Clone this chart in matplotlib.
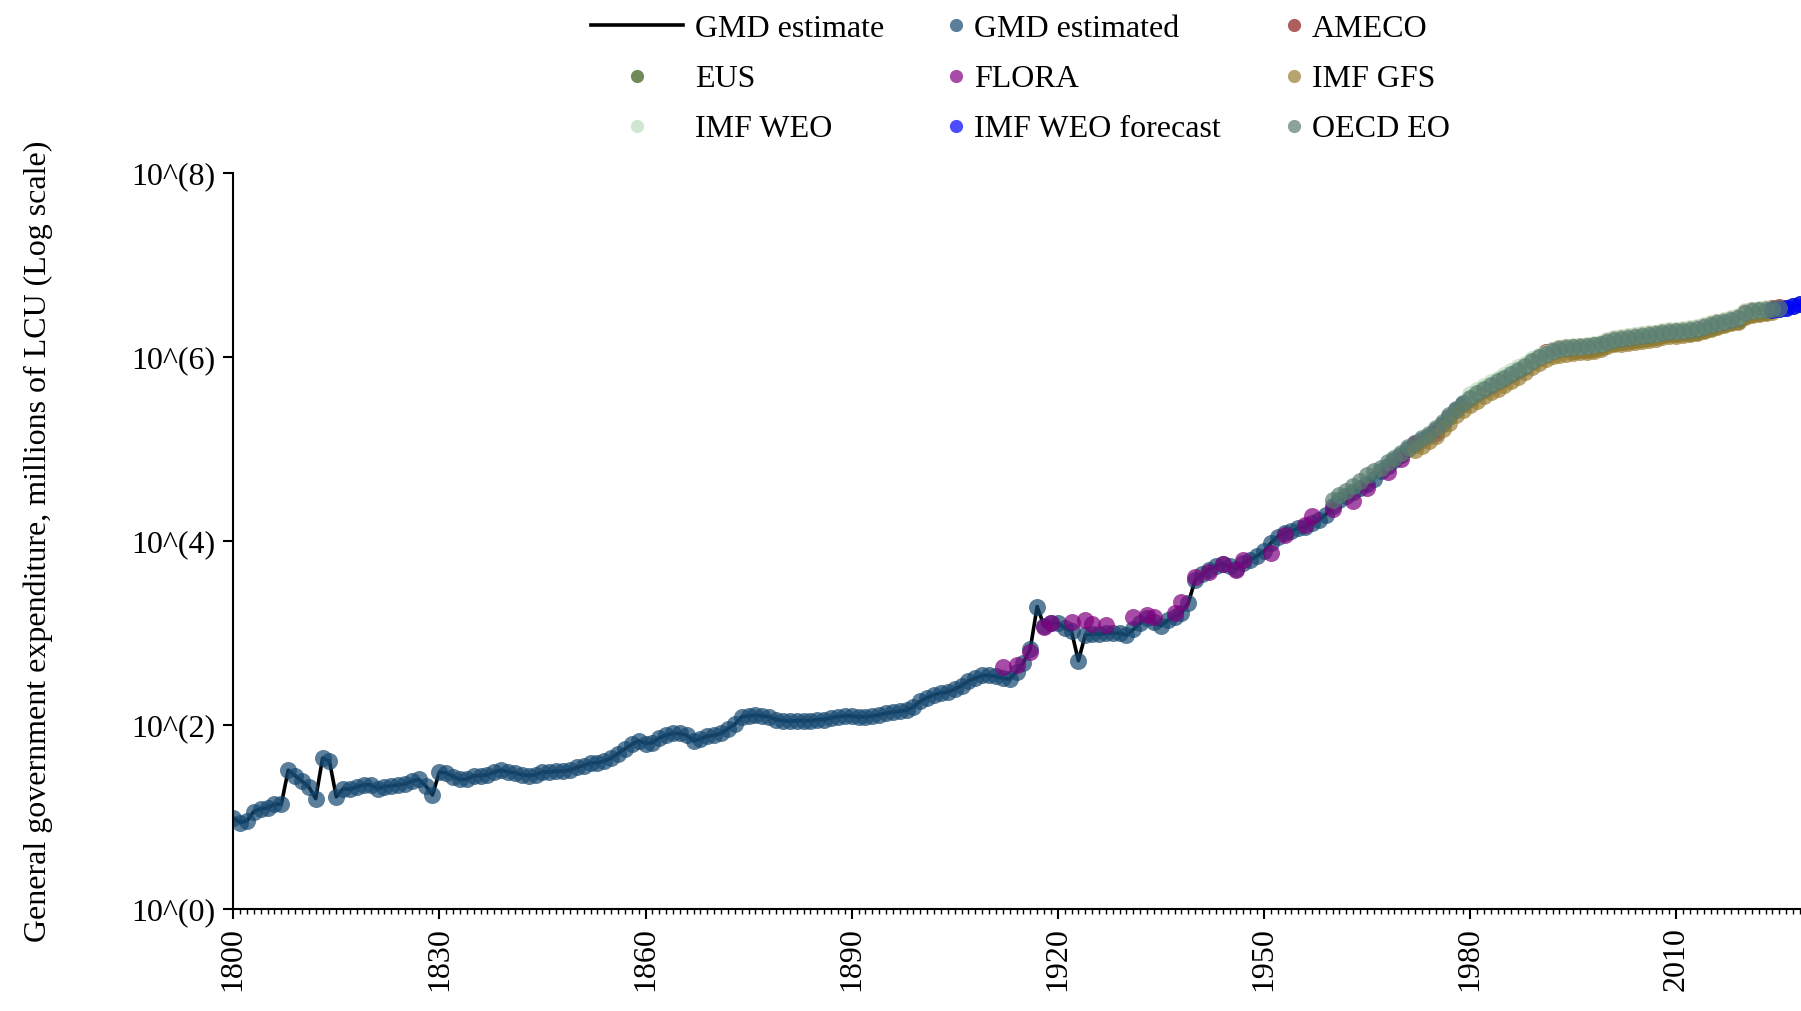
import numpy as np
import matplotlib
matplotlib.use("Agg")
import matplotlib.pyplot as plt
from matplotlib.lines import Line2D
from matplotlib.ticker import FixedLocator, FuncFormatter, MultipleLocator, NullLocator

plt.rcParams['font.family'] = ['Liberation Serif', 'DejaVu Serif']

# GMD estimate, log10 of millions of LCU, one value per year 1800-2029
gmd_years = np.arange(1800, 2030)
gmd_log10 = [
    0.99, 0.94, 0.96, 1.06, 1.09, 1.10, 1.14, 1.14, 1.51, 1.45,
    1.39, 1.33, 1.20, 1.64, 1.61, 1.22, 1.31, 1.30, 1.33, 1.35,
    1.35, 1.31, 1.33, 1.34, 1.35, 1.36, 1.39, 1.41, 1.34, 1.24,
    1.49, 1.48, 1.44, 1.41, 1.41, 1.45, 1.45, 1.46, 1.49, 1.51,
    1.49, 1.48, 1.46, 1.45, 1.46, 1.49, 1.49, 1.50, 1.50, 1.51,
    1.54, 1.56, 1.59, 1.59, 1.61, 1.64, 1.69, 1.74, 1.79, 1.83,
    1.80, 1.81, 1.86, 1.89, 1.91, 1.91, 1.89, 1.83, 1.85, 1.88,
    1.89, 1.91, 1.96, 2.01, 2.09, 2.10, 2.11, 2.10, 2.09, 2.06,
    2.05, 2.04, 2.05, 2.05, 2.05, 2.06, 2.06, 2.08, 2.09, 2.10,
    2.10, 2.09, 2.09, 2.10, 2.11, 2.13, 2.14, 2.15, 2.16, 2.20,
    2.26, 2.30, 2.33, 2.35, 2.36, 2.39, 2.43, 2.48, 2.51, 2.54,
    2.54, 2.53, 2.51, 2.50, 2.58, 2.68, 2.83, 3.29, 3.08, 3.11,
    3.11, 3.06, 3.02, 2.70, 2.98, 2.99, 2.99, 3.00, 3.00, 3.00,
    2.98, 3.04, 3.11, 3.16, 3.12, 3.08, 3.14, 3.18, 3.22, 3.33,
    3.58, 3.64, 3.69, 3.73, 3.75, 3.73, 3.70, 3.76, 3.80, 3.84,
    3.89, 3.98, 4.05, 4.09, 4.11, 4.14, 4.16, 4.20, 4.23, 4.29,
    4.38, 4.45, 4.49, 4.54, 4.58, 4.62, 4.68, 4.76, 4.82, 4.88,
    4.94, 5.00, 5.05, 5.10, 5.15, 5.21, 5.28, 5.35, 5.43, 5.49,
    5.55, 5.60, 5.65, 5.69, 5.73, 5.77, 5.81, 5.85, 5.90, 5.95,
    5.99, 6.03, 6.06, 6.08, 6.09, 6.09, 6.10, 6.10, 6.11, 6.13,
    6.16, 6.18, 6.19, 6.20, 6.21, 6.22, 6.23, 6.24, 6.26, 6.27,
    6.27, 6.28, 6.29, 6.30, 6.32, 6.34, 6.36, 6.38, 6.40, 6.42,
    6.47, 6.49, 6.50, 6.51, 6.52, 6.53, 6.54, 6.56, 6.58, 6.59,
]

flora_years = [1912, 1914, 1916, 1918, 1919, 1922, 1924, 1925, 1927, 1931,
               1933, 1934, 1937, 1938, 1940, 1942, 1944, 1946, 1947, 1951,
               1953, 1956, 1957, 1960, 1963, 1965, 1968, 1970, 1972, 1975]
flora_log10 = [2.63, 2.65, 2.80, 3.07, 3.11, 3.12, 3.14, 3.10, 3.09, 3.18,
               3.20, 3.18, 3.22, 3.34, 3.61, 3.67, 3.75, 3.69, 3.80, 3.87,
               4.07, 4.18, 4.27, 4.35, 4.44, 4.58, 4.75, 4.89, 5.07, 5.18]

oecd_years = np.arange(1960, 2026)
oecd_log10 = [
    4.45, 4.50, 4.55, 4.60, 4.65, 4.72, 4.76, 4.80, 4.86, 4.91,
    4.96, 5.02, 5.07, 5.12, 5.17, 5.23, 5.30, 5.37, 5.44, 5.50,
    5.56, 5.61, 5.66, 5.70, 5.74, 5.78, 5.82, 5.86, 5.91, 5.96,
    6.00, 6.04, 6.07, 6.09, 6.10, 6.11, 6.11, 6.12, 6.13, 6.15,
    6.17, 6.19, 6.20, 6.21, 6.22, 6.23, 6.24, 6.25, 6.27, 6.28,
    6.29, 6.29, 6.30, 6.31, 6.33, 6.35, 6.37, 6.39, 6.41, 6.43,
    6.48, 6.50, 6.51, 6.52, 6.53, 6.54,
]

gfs_years = np.arange(1972, 2025)
gfs_log10 = [
    4.99, 5.04, 5.09, 5.15, 5.22, 5.29, 5.37, 5.43,
    5.48, 5.53, 5.58, 5.62, 5.66, 5.70, 5.74, 5.79, 5.84, 5.89,
    5.94, 5.98, 6.01, 6.03, 6.04, 6.05, 6.06, 6.06, 6.07, 6.09,
    6.12, 6.14, 6.15, 6.16, 6.17, 6.18, 6.19, 6.20, 6.22, 6.23,
    6.23, 6.24, 6.25, 6.27, 6.29, 6.31, 6.33, 6.35, 6.37, 6.39,
    6.44, 6.46, 6.47, 6.48, 6.49,
]

weo_years = np.arange(1980, 2024)
weo_log10 = [
    5.60, 5.65, 5.69, 5.73, 5.77, 5.81, 5.85, 5.89, 5.93, 5.98,
    6.02, 6.05, 6.08, 6.10, 6.11, 6.12, 6.12, 6.13, 6.14, 6.16,
    6.19, 6.21, 6.22, 6.23, 6.24, 6.25, 6.26, 6.27, 6.29, 6.30,
    6.30, 6.31, 6.32, 6.33, 6.35, 6.37, 6.39, 6.41, 6.43, 6.45,
    6.50, 6.52, 6.53, 6.54,
]

ameco_years = np.arange(1991, 2026)
ameco_log10 = [
    6.06, 6.08, 6.10, 6.11, 6.11, 6.12, 6.12, 6.13, 6.15,
    6.18, 6.20, 6.21, 6.22, 6.23, 6.24, 6.25, 6.26, 6.28, 6.29,
    6.29, 6.30, 6.31, 6.32, 6.34, 6.36, 6.38, 6.40, 6.42, 6.44,
    6.49, 6.51, 6.52, 6.53, 6.54, 6.55,
]

eus_years = np.arange(1995, 2024)
eus_log10 = [
    6.07, 6.08, 6.08, 6.09, 6.11,
    6.14, 6.16, 6.17, 6.18, 6.19, 6.20, 6.21, 6.22, 6.24, 6.25,
    6.25, 6.26, 6.27, 6.28, 6.30, 6.32, 6.34, 6.36, 6.38, 6.40,
    6.45, 6.47, 6.48, 6.49,
]

forecast_years = np.arange(2024, 2030)
forecast_log10 = [6.52, 6.53, 6.54, 6.56, 6.58, 6.59]

# (label, years, values, colour) in drawing order
sources = [
    ("GMD estimated", gmd_years, gmd_log10, "#154870"),
    ("AMECO", ameco_years, ameco_log10, "#8b1a1a"),
    ("EUS", eus_years, eus_log10, "#335a10"),
    ("FLORA", flora_years, flora_log10, "purple"),
    ("IMF GFS", gfs_years, gfs_log10, "#9a7e33"),
    ("IMF WEO", weo_years, weo_log10, "#bcdcbc"),
    ("IMF WEO forecast", forecast_years, forecast_log10, "blue"),
    ("OECD EO", oecd_years, oecd_log10, "#5a7d70"),
]
colours = {name: c for name, _, _, c in sources}

FS = 23
fig = plt.figure(figsize=(18.01, 10.11), dpi=100)
ax = fig.add_axes([0.1295, 0.1009, 0.8775, 0.7275])

ax.plot(gmd_years, 10 ** np.array(gmd_log10), color="black", lw=2.6, zorder=1)
for name, yrs, vals, c in sources:
    ax.scatter(yrs, 10 ** np.array(vals), s=150, color=c, alpha=0.7,
               linewidths=0, zorder=2)

ax.set_yscale("log")
ax.set_ylim(1, 1e8)
ax.set_xlim(1800, 2030)
ax.yaxis.set_major_locator(FixedLocator([1, 1e2, 1e4, 1e6, 1e8]))
ax.yaxis.set_minor_locator(NullLocator())
ax.yaxis.set_major_formatter(FuncFormatter(lambda v, p: f"10^({int(round(np.log10(v)))})"))
ax.xaxis.set_major_locator(MultipleLocator(30))
ax.xaxis.set_minor_locator(MultipleLocator(1))

for s in ["top", "right"]:
    ax.spines[s].set_visible(False)
for s in ["left", "bottom"]:
    ax.spines[s].set_linewidth(1.5)
ax.tick_params(axis="both", which="major", labelsize=FS, width=1.5, length=7, pad=6)
ax.tick_params(axis="x", which="minor", width=1, length=3.5)
ax.tick_params(axis="x", labelrotation=90)

ax.set_ylabel("General government expenditure, millions of LCU (Log scale)", fontsize=FS)
ax.yaxis.set_label_coords(-0.114, 0.5)

def dot(name):
    return Line2D([], [], marker="o", ls="", markersize=9.5, markeredgewidth=0,
                  markerfacecolor=colours[name], alpha=0.7)

line_handle = Line2D([], [], color="black", lw=2.6)
legend_cols = [
    ([line_handle, dot("EUS"), dot("IMF WEO")], ["GMD estimate", "EUS", "IMF WEO"],
     0.3281, 2.875, 0.375),
    ([dot("GMD estimated"), dot("FLORA"), dot("IMF WEO forecast")],
     ["GMD estimated", "FLORA", "IMF WEO forecast"], 0.5244, 0.72, 0.2),
    ([dot("AMECO"), dot("IMF GFS"), dot("OECD EO")],
     ["AMECO", "IMF GFS", "OECD EO"], 0.712, 0.72, 0.2),
]
for handles, labels, x0, hl, tp in legend_cols:
    fig.legend(handles, labels, loc="upper left", bbox_to_anchor=(x0, 0.986),
               frameon=False, fontsize=FS, handlelength=hl, handletextpad=tp,
               borderpad=0, borderaxespad=0, labelspacing=0.66)

fig.savefig("out.png", dpi=100)
